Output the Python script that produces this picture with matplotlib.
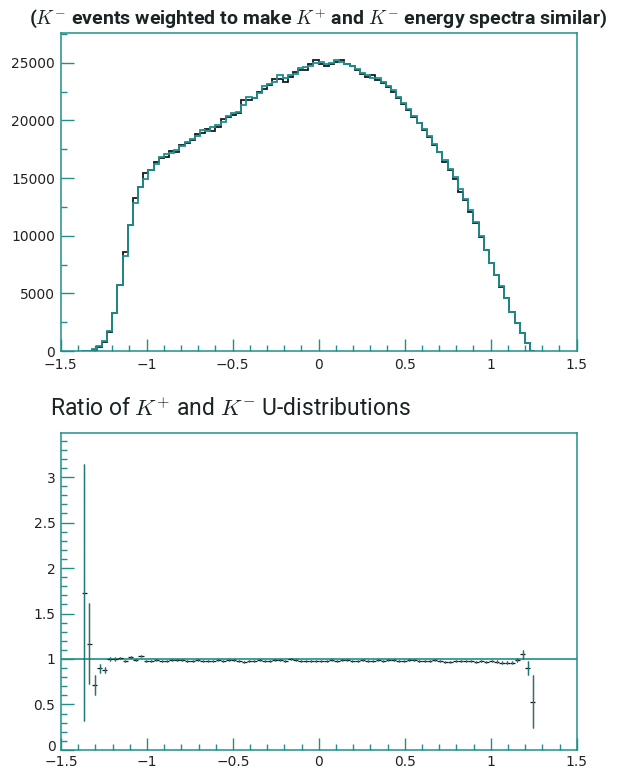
import numpy as np
import matplotlib
matplotlib.use('Agg')
import matplotlib.pyplot as plt
import matplotlib.transforms as mtransforms
from matplotlib.ticker import MultipleLocator, FuncFormatter

plt.rcParams['mathtext.fontset'] = 'cm'
plt.rcParams['font.family'] = 'DejaVu Sans'

# U bins: 100 bins from -1.5 to 1.5, only the filled ones (-1.38 .. 1.26) are listed
bin_lo = -1.38
bin_w = 0.03

# K+ U-distribution (black)
kplus = [2, 14, 110, 380, 790, 1670, 3320, 5720, 8600, 10920,
         13230, 14240, 15400, 15680, 16400, 16780, 16800, 17360, 17280, 17850,
         18000, 18280, 18860, 18900, 19210, 19100, 19440, 20080, 20300, 20460,
         20650, 21750, 21750, 21900, 22470, 22760, 23050, 23630, 23630, 23340,
         23800, 24200, 24350, 24340, 24930, 25220, 24930, 24730, 24930, 25070,
         25200, 24900, 24680, 24350, 24060, 23770, 23900, 23480, 23200, 22900,
         22470, 21900, 21460, 20880, 20300, 19730, 19150, 18570, 17850, 17270,
         16400, 15680, 14960, 13800, 13085, 12070, 11070, 9900, 8750, 7600,
         6590, 5570, 4570, 3400, 2400, 1530, 670, 20]

# weighted K- U-distribution (teal)
kminus = [1, 12, 150, 420, 880, 1700, 3320, 5750, 8200, 10900,
          12800, 14200, 14960, 15700, 16250, 16800, 17050, 17200, 17450, 17800,
          18100, 18400, 18650, 19150, 19050, 19400, 19600, 19900, 20350, 20600,
          20700, 21350, 22000, 21950, 22350, 22950, 23150, 23350, 23900, 23650,
          23900, 24050, 24500, 24600, 24750, 25000, 25100, 24900, 24950, 25250,
          25050, 24850, 24700, 24450, 24100, 23900, 23700, 23650, 23300, 22950,
          22600, 22050, 21500, 20950, 20400, 19800, 19250, 18650, 17950, 17300,
          16550, 15800, 15050, 14050, 13150, 12200, 11150, 9950, 8800, 7650,
          6600, 5600, 4600, 3420, 2420, 1530, 700, 30]

# ratio K+ / K- and its errors, same bins
ratio = [1.73, 1.17, 0.71, 0.90, 0.88, 1.00, 1.00, 1.01, 0.98, 1.02,
         0.99, 1.03, 0.98, 0.98, 0.99, 0.98, 0.98, 0.99, 0.99, 0.99,
         0.98, 0.98, 0.99, 0.98, 0.98, 0.98, 0.99, 0.98, 0.99, 0.99,
         0.98, 0.97, 0.98, 0.98, 0.99, 0.98, 0.98, 0.99, 0.99, 0.98,
         1.00, 0.99, 0.98, 0.98, 0.98, 0.98, 0.98, 0.98, 0.99, 0.98,
         0.99, 0.99, 0.98, 0.98, 0.99, 0.98, 0.98, 0.99, 0.98, 0.99,
         0.99, 0.98, 0.98, 0.99, 0.99, 0.98, 0.98, 0.98, 0.99, 0.98,
         0.97, 0.97, 0.98, 0.98, 0.98, 0.98, 0.97, 0.98, 0.97, 0.98,
         0.97, 0.96, 0.96, 0.96, 0.99, 1.05, 0.90, 0.53]
ratio_err = [1.41, 0.45, 0.11, 0.05, 0.035, 0.025, 0.018, 0.014, 0.012, 0.011,
             0.010, 0.010, 0.010, 0.009, 0.009, 0.009, 0.009, 0.009, 0.009, 0.009,
             0.009, 0.009, 0.009, 0.009, 0.009, 0.009, 0.009, 0.009, 0.009, 0.009,
             0.009, 0.009, 0.009, 0.009, 0.009, 0.009, 0.009, 0.009, 0.009, 0.009,
             0.009, 0.009, 0.009, 0.009, 0.009, 0.009, 0.009, 0.009, 0.009, 0.009,
             0.009, 0.009, 0.009, 0.009, 0.009, 0.009, 0.009, 0.009, 0.009, 0.009,
             0.009, 0.009, 0.009, 0.009, 0.009, 0.009, 0.009, 0.009, 0.009, 0.009,
             0.009, 0.009, 0.010, 0.010, 0.010, 0.010, 0.011, 0.011, 0.012, 0.013,
             0.014, 0.015, 0.017, 0.020, 0.024, 0.05, 0.08, 0.29]

# axis ticks
u_ticks = [-1.5, -1.0, -0.5, 0.0, 0.5, 1.0, 1.5]
count_ticks = [0, 5000, 10000, 15000, 20000, 25000]
ratio_ticks = [0, 0.5, 1.0, 1.5, 2.0, 2.5, 3.0]

teal = '#1f8f8c'
dark = '#141e1e'

edges = bin_lo + bin_w * np.arange(len(kplus) + 1)
centers = edges[:-1] + bin_w / 2

# ROOT-like labels: 0.5, 1, -1.5 with a real minus sign
root_fmt = FuncFormatter(lambda v, pos: ('%g' % v).replace('-', '\u2212'))


def root_style(ax, yticks, ymin, xpad):
    ax.set_xlim(-1.5, 1.5)
    ax.set_xticks(u_ticks)
    ax.xaxis.set_minor_locator(MultipleLocator(0.1))
    ax.set_yticks(yticks)
    ax.yaxis.set_minor_locator(MultipleLocator(ymin))
    ax.xaxis.set_major_formatter(root_fmt)
    ax.yaxis.set_major_formatter(root_fmt)
    ax.tick_params(which='both', direction='in', top=False, right=False,
                   colors=teal, labelcolor='#222222', labelsize=10, width=1.0)
    ax.tick_params(which='major', length=9)
    ax.tick_params(which='minor', length=4.5)
    ax.tick_params(axis='x', pad=xpad)
    ax.tick_params(axis='y', pad=4)
    for s in ax.spines.values():
        s.set_color(teal)
        s.set_linewidth(1.1)


fig = plt.figure(figsize=(6.33, 7.72), dpi=100)

# top: U spectra
ax1 = fig.add_axes([0.0959, 0.5453, 0.8149, 0.4123])
ax1.stairs(kplus, edges, color=dark, linewidth=1.3)
ax1.stairs(kminus, edges, color=teal, linewidth=1.3)
ax1.set_ylim(0, 27600)
root_style(ax1, count_ticks, 2500, 5)
fig.text(0.503, 0.977,
         r'($K^{-}$ events weighted to make $K^{+}$ and $K^{-}$ energy spectra similar)',
         ha='center', va='center', fontsize=14, fontweight='bold',
         family='Roboto', color='#1a2424')

# bottom: ratio
ax2 = fig.add_axes([0.0964, 0.0285, 0.8147, 0.4102])
ax2.axhline(1.0, color=teal, linewidth=1.2)
ax2.errorbar(centers, ratio, yerr=ratio_err, xerr=bin_w / 2, fmt='none',
             ecolor=dark, elinewidth=0.9, capsize=0)
ax2.errorbar(centers, ratio, yerr=ratio_err, fmt='none',
             ecolor=teal, elinewidth=0.9, capsize=0, alpha=0.8)
ax2.set_ylim(0, 3.48)
root_style(ax2, ratio_ticks, 0.1, 3.5)
# nudge the "0" of the ratio axis up a little so it clears the -1.5 below it
zero_lab = ax2.yaxis.get_major_ticks()[0].label1
zero_lab.set_transform(zero_lab.get_transform() +
                       mtransforms.ScaledTranslation(0, 3 / 72, fig.dpi_scale_trans))
fig.text(0.079, 0.469, r'Ratio of $K^{+}$ and $K^{-}$ U-distributions',
         ha='left', va='center', fontsize=16.5, family='Roboto', color='#1a2424')

fig.savefig('out.png', dpi=100)
